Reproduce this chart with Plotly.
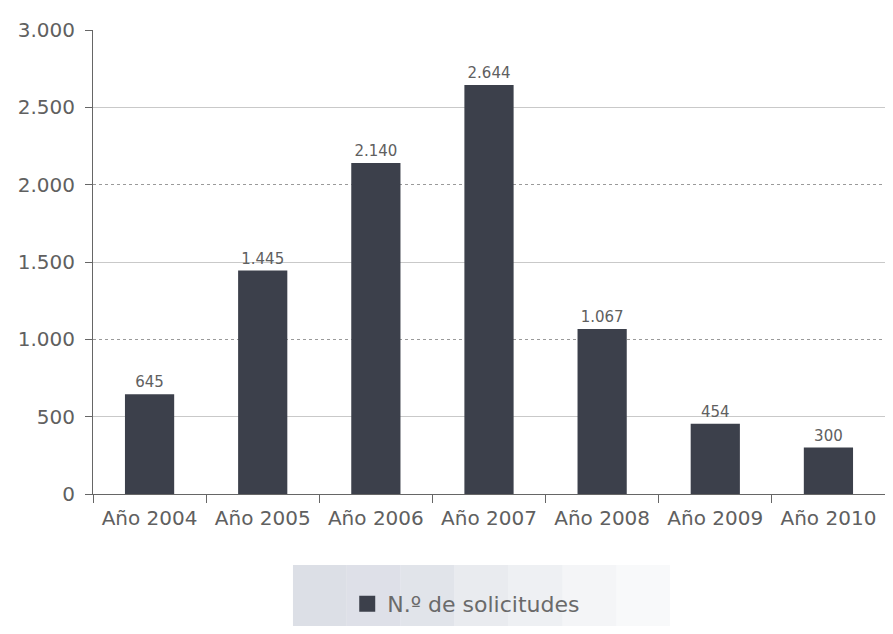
import plotly.graph_objects as go

categories = ["Año 2004", "Año 2005", "Año 2006", "Año 2007", "Año 2008", "Año 2009", "Año 2010"]
solicitudes = [645, 1445, 2140, 2644, 1067, 454, 300]
series_name = "N.º de solicitudes"
y_ticks = [0, 500, 1000, 1500, 2000, 2500, 3000]
solid_grid = [500, 1500, 2500]
dotted_grid = [1000, 2000, 3000]

BAR = "#3c404b"
TXT = "#606060"
FONT = "DejaVu Sans, Liberation Sans, sans-serif"


def fmt(v):
    return f"{v:,}".replace(",", ".")


fig = go.Figure()

# invisible helpers so the overlay grid axes get drawn
fig.add_trace(go.Scatter(x=[categories[0]], y=[None], yaxis="y2", showlegend=False, hoverinfo="skip"))
fig.add_trace(go.Scatter(x=[categories[0]], y=[None], yaxis="y3", showlegend=False, hoverinfo="skip"))

fig.add_trace(go.Bar(
    x=categories, y=solicitudes, name=series_name, showlegend=False,
    marker={"color": BAR, "line": {"width": 0}},
    text=[fmt(v) for v in solicitudes], textposition="outside",
    textfont={"size": 15, "color": TXT, "family": FONT}, cliponaxis=False,
))
# legend entry with a bigger square swatch
fig.add_trace(go.Scatter(x=[None], y=[None], mode="markers", name=series_name,
                         marker={"symbol": "square", "size": 22, "color": BAR}))

# legend backdrop, fading to the right
fades = [0.95, 0.9, 0.8, 0.6, 0.45, 0.3, 0.18]
x_start, x_end = 0.2525, 0.7285
w = (x_end - x_start) / len(fades)
for i, op in enumerate(fades):
    fig.add_shape(type="rect", xref="paper", yref="paper",
                  x0=x_start + i * w, x1=x_start + (i + 1) * w,
                  y0=-0.3, y1=-0.153, fillcolor="#dadde5", opacity=op,
                  line={"width": 0}, layer="below")

# page body adds an 8px margin: keep the figure inside the window, shift margins
fig.update_layout(
    width=877, height=618,
    margin={"l": 85, "r": 0, "t": 22, "b": 132, "pad": 0},
    paper_bgcolor="white", plot_bgcolor="white",
    font={"family": FONT, "color": TXT, "size": 20},
    bargap=0.565,
    showlegend=True,
    legend={"orientation": "h", "x": 0.321, "xanchor": "left", "y": -0.237, "yanchor": "middle",
            "bgcolor": "rgba(0,0,0,0)", "font": {"size": 22, "color": "#6a6a6a"},
            "itemsizing": "trace"},
    xaxis={"showline": True, "linecolor": "#666666", "linewidth": 1, "automargin": False,
           "ticks": "outside", "tickson": "boundaries", "ticklen": 8, "tickcolor": "#666666",
           "ticklabelstandoff": 6, "tickfont": {"size": 20, "color": TXT}},
    yaxis={"range": [0, 3000], "tickvals": y_ticks, "ticktext": [fmt(v) for v in y_ticks],
           "showgrid": False, "showline": True, "linecolor": "#666666", "linewidth": 1,
           "ticks": "outside", "ticklen": 7, "tickcolor": "#666666", "zeroline": False,
           "automargin": False, "ticklabelstandoff": 6, "tickfont": {"size": 20, "color": TXT}},
    yaxis2={"range": [0, 3000], "overlaying": "y", "anchor": "x", "tickvals": solid_grid,
            "showticklabels": False, "showgrid": True, "gridcolor": "#c9c9c9", "gridwidth": 1,
            "automargin": False, "zeroline": False, "layer": "below traces"},
    yaxis3={"range": [0, 3000], "overlaying": "y", "anchor": "x", "tickvals": dotted_grid,
            "showticklabels": False, "showgrid": True, "gridcolor": "#9a9a9a", "gridwidth": 1,
            "griddash": "dot", "automargin": False, "zeroline": False, "layer": "below traces"},
)

fig.write_html("out.html")
